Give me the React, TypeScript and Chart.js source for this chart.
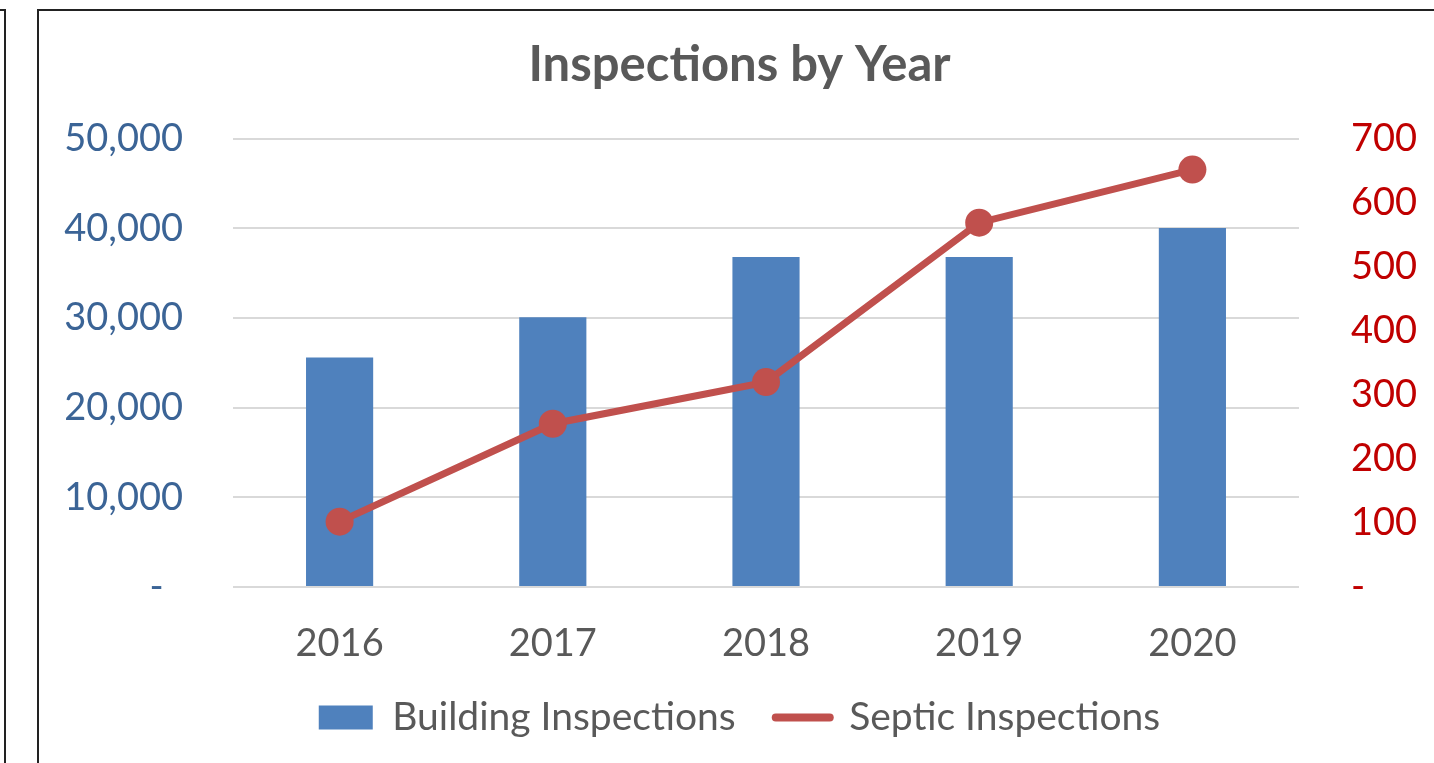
import React, { useEffect, useRef } from 'react';
import { Chart, registerables } from 'chart.js';

Chart.register(...registerables);

const years = ['2016', '2017', '2018', '2019', '2020'];
const buildingInspections = [25600, 30100, 36800, 36800, 40050];
const septicInspections = [102, 255, 320, 569, 652];
const leftTicks = [0, 10000, 20000, 30000, 40000, 50000];
const rightTicks = [0, 100, 200, 300, 400, 500, 600, 700];

const BAR = '#4F81BD';
const LINE = '#C0504D';
const TEXT = '#595959';
const LEFT_TICK = '#3B6496';
const RIGHT_TICK = '#C00000';
const FONT = 'Lato, "Open Sans", sans-serif';

export default function App() {
  const ref = useRef<HTMLCanvasElement | null>(null);

  useEffect(() => {
    if (!ref.current) return;
    const chart = new Chart(ref.current, {
      type: 'bar',
      data: {
        labels: years,
        datasets: [
          {
            type: 'line',
            label: 'Septic Inspections',
            data: septicInspections,
            yAxisID: 'y1',
            borderColor: LINE,
            backgroundColor: LINE,
            borderWidth: 7,
            pointRadius: 14,
            pointHoverRadius: 14,
            pointBackgroundColor: LINE,
            pointBorderColor: LINE,
            pointBorderWidth: 0,
            tension: 0,
            order: 0,
          } as any,
          {
            type: 'bar',
            label: 'Building Inspections',
            data: buildingInspections,
            yAxisID: 'y',
            backgroundColor: BAR,
            borderWidth: 0,
            barPercentage: 0.315,
            categoryPercentage: 1,
            order: 1,
          },
        ],
      },
      options: {
        animation: false,
        responsive: false,
        devicePixelRatio: 1,
        layout: { padding: { left: 45, right: 0, top: 10, bottom: 16 } },
        plugins: {
          tooltip: { enabled: false },
          title: {
            display: true,
            text: 'Inspections by Year',
            color: TEXT,
            font: { family: FONT, size: 49, weight: 'bold', lineHeight: 1.2 },
            padding: { top: 26, bottom: 44 },
          },
          legend: {
            position: 'bottom',
            labels: {
              usePointStyle: true,
              pointStyleWidth: 54,
              boxHeight: 24,
              padding: 40,
              color: TEXT,
              font: { family: FONT, size: 39 },
              generateLabels: () => [
                {
                  text: 'Building Inspections',
                  fillStyle: BAR,
                  strokeStyle: BAR,
                  lineWidth: 0,
                  pointStyle: 'rect',
                  datasetIndex: 1,
                  hidden: false,
                  fontColor: TEXT,
                },
                {
                  text: 'Septic Inspections',
                  fillStyle: LINE,
                  strokeStyle: LINE,
                  lineWidth: 8,
                  lineCap: 'round',
                  pointStyle: 'line',
                  datasetIndex: 0,
                  hidden: false,
                  fontColor: TEXT,
                } as any,
              ],
            },
          },
        },
        scales: {
          x: {
            offset: true,
            grid: { display: false, drawTicks: false },
            border: { display: false },
            ticks: { color: TEXT, font: { family: FONT, size: 38 }, padding: 34, maxRotation: 0 },
            afterFit: (s: any) => { s.height = 71; },
          },
          y: {
            position: 'left',
            min: 0,
            max: 50000,
            afterBuildTicks: (s: any) => { s.ticks = leftTicks.map((v) => ({ value: v })); },
            grid: { color: '#D9D9D9', lineWidth: 2, drawTicks: false },
            border: { display: false },
            ticks: {
              color: LEFT_TICK,
              font: { family: FONT, size: 38 },
              padding: 50,
              callback: (v: any) => (Number(v) === 0 ? '-  ' : Number(v).toLocaleString('en-US')),
            },
            afterFit: (s: any) => { s.width = 188; },
          },
          y1: {
            position: 'right',
            min: 0,
            max: 700,
            afterBuildTicks: (s: any) => { s.ticks = rightTicks.map((v) => ({ value: v })); },
            grid: { display: false, drawTicks: false },
            border: { display: false },
            ticks: {
              color: RIGHT_TICK,
              font: { family: FONT, size: 38 },
              padding: 52,
              callback: (v: any) => (Number(v) === 0 ? '-' : String(v)),
            },
            afterFit: (s: any) => { s.width = 135; },
          },
        },
      },
    });
    return () => chart.destroy();
  }, []);

  return (
    <div style={{ position: 'fixed', left: 0, top: 0, width: 1434, height: 763, overflow: 'hidden', background: '#fff' }}>
      <div style={{ position: 'absolute', left: -100, top: 9, width: 104, height: 900, borderTop: '2px solid #222', borderRight: '2px solid #222' }} />
      <div style={{ position: 'absolute', left: 37, top: 9, width: 1600, height: 900, borderTop: '2px solid #222', borderLeft: '2px solid #222' }} />
      <canvas ref={ref} width={1434} height={763} style={{ position: 'absolute', left: 0, top: 0, width: 1434, height: 763 }} />
    </div>
  );
}
